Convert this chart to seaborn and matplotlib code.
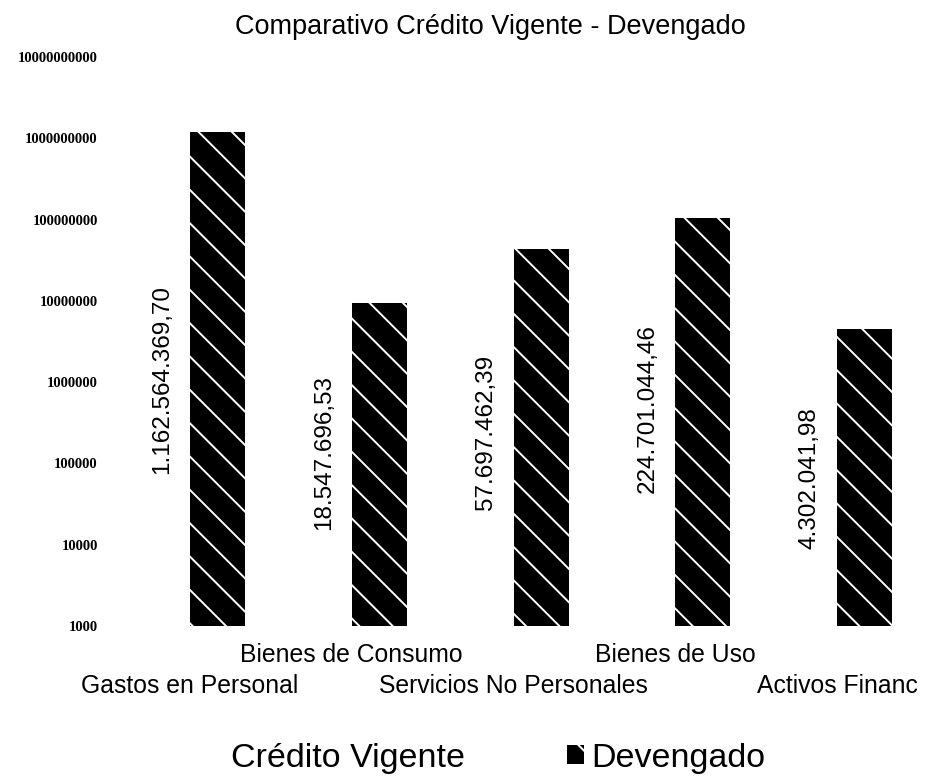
import matplotlib
matplotlib.use("Agg")
import matplotlib.pyplot as plt
import seaborn as sns
import pandas as pd
from matplotlib.patches import Patch
from matplotlib.ticker import NullLocator

# Budget execution by expense category (pesos)
categories = ["Gastos en Personal", "Bienes de Consumo", "Servicios No Personales",
              "Bienes de Uso", "Activos Financ"]
credito_vigente = [1162564369.70, 18547696.53, 57697462.39, 224701044.46, 4302041.98]
devengado = [1.18e9, 9.45e6, 4.36e7, 1.06e8, 4.53e6]
series_names = ["Crédito Vigente", "Devengado"]
ytick_values = [1e3, 1e4, 1e5, 1e6, 1e7, 1e8, 1e9, 1e10]
ytick_labels = ["1000", "10000", "100000", "1000000", "10000000",
                "100000000", "1000000000", "10000000000"]


def fmt_es(v):
    s = f"{v:,.2f}"
    return s.replace(",", "X").replace(".", ",").replace("X", ".")


df = pd.DataFrame({
    "categoria": categories * 2,
    "serie": [series_names[0]] * len(categories) + [series_names[1]] * len(categories),
    "valor": credito_vigente + devengado,
})

sns.set_style("white")
plt.rcParams["font.family"] = ["Liberation Sans", "DejaVu Sans"]
plt.rcParams["hatch.linewidth"] = 1.4
for key in ("text.color", "axes.labelcolor", "xtick.color", "ytick.color"):
    plt.rcParams[key] = "black"

fig = plt.figure(figsize=(9.25, 7.76), dpi=100)
ax = fig.add_axes([109 / 925, 1 - 626 / 776, 809 / 925, (626 - 57) / 776])
ax.set_yscale("log")

sns.barplot(data=df, x="categoria", y="valor", hue="serie", order=categories,
            hue_order=series_names, palette={"Crédito Vigente": "white", "Devengado": "black"},
            width=0.68, gap=0, legend=False, ax=ax, errorbar=None)

ax.set_ylim(1e3, 1e10)
ax.set_xlim(-0.5, len(categories) - 0.5)

cv_bars, dev_bars = ax.containers[0], ax.containers[1]
for p in cv_bars:
    p.set_facecolor("white")
    p.set_edgecolor("none")
    p.set_linewidth(0)
for p in dev_bars:
    p.set_facecolor("black")
    p.set_hatch("\\")
    p.set_edgecolor("white")
    p.set_linewidth(0)

# value labels centred (in log space) on the Crédito Vigente bars
ymin = ax.get_ylim()[0]
for p, v in zip(cv_bars, credito_vigente):
    xc = p.get_x() + p.get_width() / 2
    yc = (ymin * v) ** 0.5
    ax.text(xc, yc, fmt_es(v), rotation=90, ha="center", va="center",
            fontsize=17.5, color="black")

ax.set_yticks(ytick_values)
ax.set_yticklabels(ytick_labels, fontfamily="Liberation Serif", fontsize=10.5,
                   fontweight="bold")
ax.yaxis.set_minor_locator(NullLocator())
ax.tick_params(axis="y", length=0, pad=8)
ax.tick_params(axis="x", length=0)
ax.set_xticklabels([])
ax.set_xlabel("")
ax.set_ylabel("")
for s in ax.spines.values():
    s.set_visible(False)

# staggered category labels
for i, (x, name) in enumerate(zip(ax.get_xticks(), categories)):
    off = 48 if i % 2 == 0 else 26
    ax.annotate(name, xy=(x, 0), xycoords=("data", "axes fraction"),
                xytext=(0, -off), textcoords="offset points",
                ha="center", va="baseline", fontsize=17.8, annotation_clip=False)

fig.text(490 / 925, 1 - 27 / 776, "Comparativo Crédito Vigente - Devengado",
         ha="center", va="center", fontsize=19.5)

handles = [Patch(facecolor="white", edgecolor="none"),
           Patch(facecolor="black", hatch="\\", edgecolor="white", linewidth=0)]
fig.legend(handles, series_names, loc="center", bbox_to_anchor=(486 / 925, 1 - 758 / 776),
           ncol=2, frameon=False, fontsize=24.5, handlelength=0.5, handleheight=0.5,
           handletextpad=0.2, columnspacing=3.0)

fig.savefig("out.png", dpi=100)
